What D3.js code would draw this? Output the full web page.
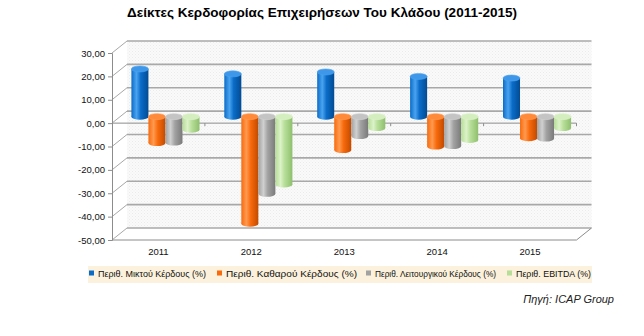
<!DOCTYPE html>
<html><head><meta charset="utf-8">
<script src="https://cdn.jsdelivr.net/npm/d3@7"></script>
<style>body{margin:0;background:#fff}svg{display:block}</style>
</head><body>
<svg id="c" width="644" height="336"></svg>
<script>
const years = ["2011","2012","2013","2014","2015"];
const seriesNames = ["Περιθ. Μικτού Κέρδους (%)","Περιθ. Καθαρού Κέρδους (%)","Περιθ. Λειτουργικού Κέρδους (%)","Περιθ. EBITDA (%)"];
const grossMargin = [20.4, 18.3, 19.1, 17.2, 16.5];
const netMargin = [-11.3, -45.8, -14.3, -12.8, -9.2];
const operatingMargin = [-11.1, -33.0, -8.3, -12.6, -9.4];
const ebitdaMargin = [-5.6, -29.0, -4.9, -10.0, -4.9];
const yTicks = [30, 20, 10, 0, -10, -20, -30, -40, -50];
const title = "Δείκτες Κερδοφορίας Επιχειρήσεων Του Κλάδου (2011-2015)";
const source = "Πηγή: ICAP Group";

const seriesValues = [grossMargin, netMargin, operatingMargin, ebitdaMargin];
const colors = [
  {base:"#0a6cc8", light:"#4aa3f0", dark:"#034b94", top:"#3e97e8"},
  {base:"#f86a0c", light:"#ff9a50", dark:"#c24a00", top:"#ff8a3a"},
  {base:"#a2a2a2", light:"#d0d0d0", dark:"#7a7a7a", top:"#c4c4c4"},
  {base:"#b6de98", light:"#dcf2c8", dark:"#8fbf6e", top:"#d4eebf"}
];

const svg = d3.select("#c");
const defs = svg.append("defs");
colors.forEach((c,i)=>{
  const g = defs.append("linearGradient").attr("id","g"+i).attr("x1","0").attr("x2","1").attr("y1","0").attr("y2","0");
  g.append("stop").attr("offset","0%").attr("stop-color",c.base);
  g.append("stop").attr("offset","30%").attr("stop-color",c.light);
  g.append("stop").attr("offset","55%").attr("stop-color",c.base);
  g.append("stop").attr("offset","100%").attr("stop-color",c.dark);
});
const pat = defs.append("pattern").attr("id","wall").attr("width",3).attr("height",3).attr("patternUnits","userSpaceOnUse");
pat.append("rect").attr("width",3).attr("height",3).attr("fill","#fafafa");
pat.append("rect").attr("width",1).attr("height",1).attr("fill","#ebebeb");
pat.append("rect").attr("x",1.5).attr("y",1.5).attr("width",1).attr("height",1).attr("fill","#f0f0f0");

const left = 112, right = 576.5;
const dxW = 15, dyW = -12;   // depth offset of back wall
const dxB = 7, dyB = -6.5;   // depth offset of bars

const y = d3.scaleLinear().domain([-50, 30]).range([240, 53]);
const x0 = d3.scaleBand().domain(years).range([left, right]);
const x1 = d3.scaleBand().domain(d3.range(4)).range([12.4, x0.bandwidth()-12.4]);

// back wall
svg.append("rect").attr("x", left+dxW).attr("y", y(30)+dyW).attr("width", right-left).attr("height", y(-50)-y(30)).attr("fill","url(#wall)");

// gridlines on back wall + diagonals on left wall
yTicks.forEach(t=>{
  svg.append("line").attr("x1",left+dxW).attr("x2",right+dxW).attr("y1",y(t)+dyW).attr("y2",y(t)+dyW)
    .attr("stroke","#a8a8a8").attr("stroke-width",1.6);
  svg.append("line").attr("x1",left).attr("x2",left+dxW).attr("y1",y(t)).attr("y2",y(t)+dyW)
    .attr("stroke","#a8a8a8").attr("stroke-width",1);
});
// floor
svg.append("line").attr("x1",left).attr("x2",right).attr("y1",y(-50)).attr("y2",y(-50)).attr("stroke","#8c8c8c").attr("stroke-width",1);
svg.append("line").attr("x1",right).attr("x2",right+dxW).attr("y1",y(-50)).attr("y2",y(-50)+dyW).attr("stroke","#8c8c8c").attr("stroke-width",1);

// y axis
const yAxis = d3.axisLeft(y).tickValues(yTicks).tickSize(4).tickPadding(3)
  .tickFormat(d=>d3.format(".2f")(d).replace(".",",").replace("−","-"));
const ya = svg.append("g").attr("transform",`translate(${left},0)`).call(yAxis);
ya.select(".domain").attr("stroke","#8c8c8c");
ya.selectAll(".tick line").attr("stroke","#8c8c8c");
ya.selectAll("text").attr("font-family","Liberation Sans, Arial, sans-serif").attr("font-size",9.5).attr("fill","#111");

// zero line with category ticks
svg.append("line").attr("x1",left).attr("x2",right).attr("y1",y(0)).attr("y2",y(0)).attr("stroke","#8c8c8c").attr("stroke-width",1);
years.forEach((yr,i)=>{
  const xb = x0(yr)+x0.bandwidth();
  svg.append("line").attr("x1",xb).attr("x2",xb).attr("y1",y(0)).attr("y2",y(0)+3).attr("stroke","#8c8c8c");
});

// category labels
svg.append("g").selectAll("text").data(years).join("text")
  .attr("x",d=>x0(d)+x0.bandwidth()/2).attr("y",255)
  .attr("text-anchor","middle").attr("font-family","Liberation Sans, Arial, sans-serif").attr("font-size",9.5).attr("fill","#111")
  .text(d=>d);

// cylinders
const ry = 3;
const bars = svg.append("g");
years.forEach((yr,i)=>{
  seriesValues.forEach((vals,s)=>{
    const v = vals[i];
    const xl = x0(yr)+x1(s)+dxB;
    const w = x1.bandwidth();
    const cx = xl + w/2;
    const y0 = y(0)+dyB, yv = y(v)+dyB;
    const ytop = Math.min(y0,yv), ybot = Math.max(y0,yv);
    const c = colors[s];
    const g = bars.append("g");
    g.append("ellipse").attr("cx",cx).attr("cy",ybot).attr("rx",w/2).attr("ry",ry).attr("fill","url(#g"+s+")");
    g.append("rect").attr("x",xl).attr("y",ytop).attr("width",w).attr("height",ybot-ytop).attr("fill","url(#g"+s+")");
    g.append("ellipse").attr("cx",cx).attr("cy",ytop).attr("rx",w/2).attr("ry",ry).attr("fill",c.top).attr("stroke",c.light).attr("stroke-width",0.6);
  });
});

// title
svg.append("text").attr("x",322).attr("y",17).attr("text-anchor","middle")
  .attr("font-family","Liberation Sans, Arial, sans-serif").attr("font-weight","bold").attr("font-size",13.5).attr("fill","#000")
  .text(title);

// legend
svg.append("rect").attr("x",88).attr("y",266).attr("width",504).attr("height",17).attr("fill","#fbf1dc");
const legX = [89, 217, 366, 507];
const legW = [108, 131, 121, 75];
seriesNames.forEach((n,s)=>{
  svg.append("rect").attr("x",legX[s]).attr("y",270.5).attr("width",5).attr("height",5).attr("fill",colors[s].base);
  svg.append("text").attr("x",legX[s]+9).attr("y",276.5).attr("font-family","Liberation Sans, Arial, sans-serif").attr("font-size",9.5).attr("fill","#111")
    .attr("textLength",legW[s]).attr("lengthAdjust","spacingAndGlyphs").text(n);
});

// source
svg.append("text").attr("x",614).attr("y",303).attr("text-anchor","end")
  .attr("font-family","Liberation Sans, Arial, sans-serif").attr("font-style","italic").attr("font-size",11).attr("fill","#222")
  .text(source);
</script>
</body></html>
